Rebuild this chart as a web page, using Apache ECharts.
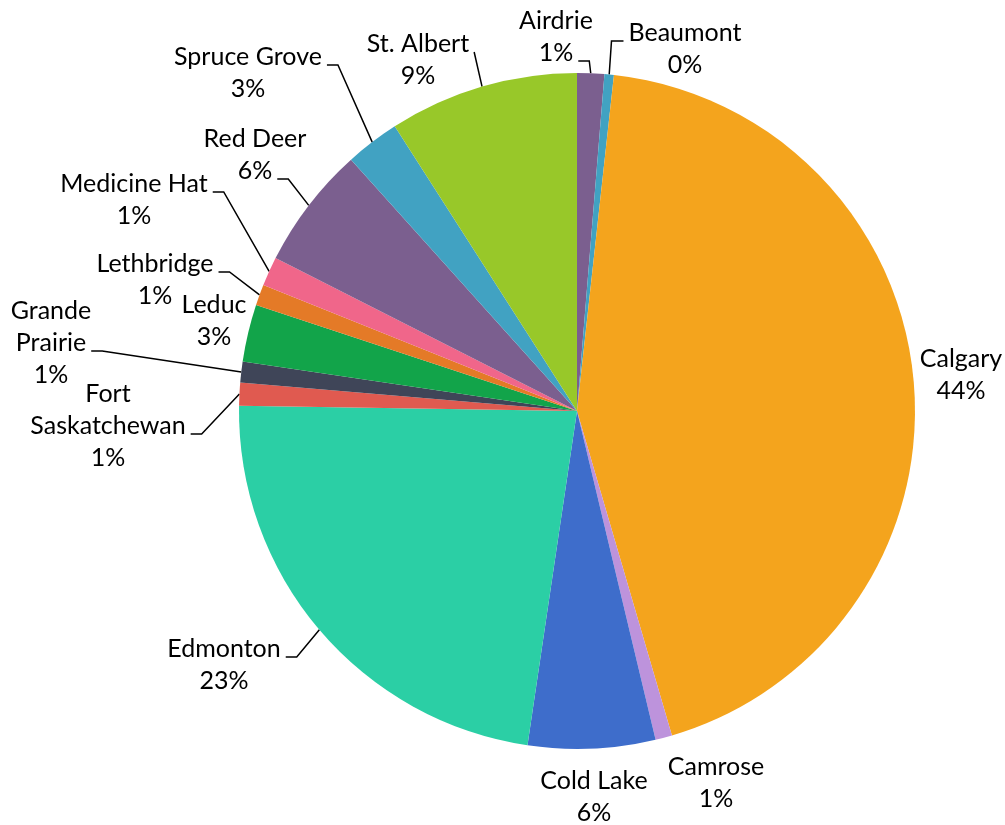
<!DOCTYPE html>
<html><head><meta charset="utf-8">
<script src="https://cdn.jsdelivr.net/npm/echarts@6/dist/echarts.min.js"></script>
<style>html,body{margin:0;padding:0;background:#fff}#c{width:1005px;height:825px}</style>
</head><body><div id="c"></div>
<script>
const categories = ['Airdrie','Beaumont','Calgary','Camrose','Cold Lake','Edmonton','Fort Saskatchewan','Grande Prairie','Leduc','Lethbridge','Medicine Hat','Red Deer','Spruce Grove','St. Albert'];
const labelNames = ['Airdrie','Beaumont','Calgary','Camrose','Cold Lake','Edmonton','Fort\nSaskatchewan','Grande\nPrairie','Leduc','Lethbridge','Medicine Hat','Red Deer','Spruce Grove','St. Albert'];
const values = [1.3, 0.45, 43.9, 0.8, 6.1, 23.0, 1.1, 1.0, 2.75, 1.0, 1.4, 5.9, 2.6, 9.1];
const colors = ['#7B5F8F','#41A2C2','#F4A41D','#BD93DC','#3E6DCB','#2BCFA5','#E05A50','#3F4558','#12A44A','#E47A27','#F0668A','#7B5F8F','#41A2C2','#98C829'];

// label placement (centre of text block), leader side and the text line the leader attaches to
const labelPlace = [
  [556, 37, 'r', 1],
  [685, 49, 'l', 0],
  [961, 375, null, 0],
  [716, 783, null, 0],
  [594, 797, null, 0],
  [224, 665, 'r', 0],
  [108, 426, 'r', 1],
  [51, 343, 'r', 1],
  [214, 321, null, 0],
  [155, 280, 'r', 0],
  [134, 200, 'r', 0],
  [255, 155, 'r', 1],
  [248, 73, 'r', 0],
  [418, 60, 'r0', 0]
];
const FONT = 'Lato, "Open Sans", sans-serif';
const FS = 25, LH = 32;
const mctx = document.createElement('canvas').getContext('2d');
mctx.font = FS + 'px ' + FONT;

const total = values.reduce((a,b)=>a+b,0);
const pct = v => Math.round(v/total*100) + '%';
const chart = echarts.init(document.getElementById('c'), null, {renderer:'canvas'});
chart.setOption({
  animation:false,
  series:[{
    type:'pie',
    center:[577,411],
    radius:338,
    startAngle:90,
    clockwise:true,
    data: categories.map((c,i)=>({name:c, value:values[i], itemStyle:{color:colors[i]}})),
    label:{
      show:true, position:'outside', overflow:'none',
      formatter:(p)=> labelNames[p.dataIndex] + '\n' + pct(p.value),
      fontFamily:FONT, fontSize:FS, color:'#000', lineHeight:LH, align:'center'
    },
    labelLine:{show:true, length:15, length2:15, lineStyle:{color:'#000', width:1.5}},
    labelLayout:function(params){
      const i = params.dataIndex;
      const pl = labelPlace[i];
      const lines = (labelNames[i] + '\n' + pct(values[i])).split('\n');
      const res = {x: pl[0], y: pl[1], align:'center', verticalAlign:'middle'};
      const start = params.labelLinePoints ? params.labelLinePoints[0] : null;
      if (!pl[2] || !start) { res.labelLinePoints = start ? [start.slice(), start.slice(), start.slice()] : undefined; return res; }
      const n = lines.length;
      const ly = pl[1] - (n-1)*LH/2 + pl[3]*LH + 8;
      const w = mctx.measureText(lines[pl[3]]).width;
      let ax, ex;
      if (pl[2] === 'l') { ax = pl[0] - w/2 - 5; ex = ax - 12; }
      else if (pl[2] === 'r0') { ax = pl[0] + w/2 + 5; ex = ax; }
      else { ax = pl[0] + w/2 + 5; ex = ax + 11; }
      res.labelLinePoints = [[start[0], start[1]], [ex, ly], [ax, ly]];
      return res;
    }
  }]
});
</script></body></html>
